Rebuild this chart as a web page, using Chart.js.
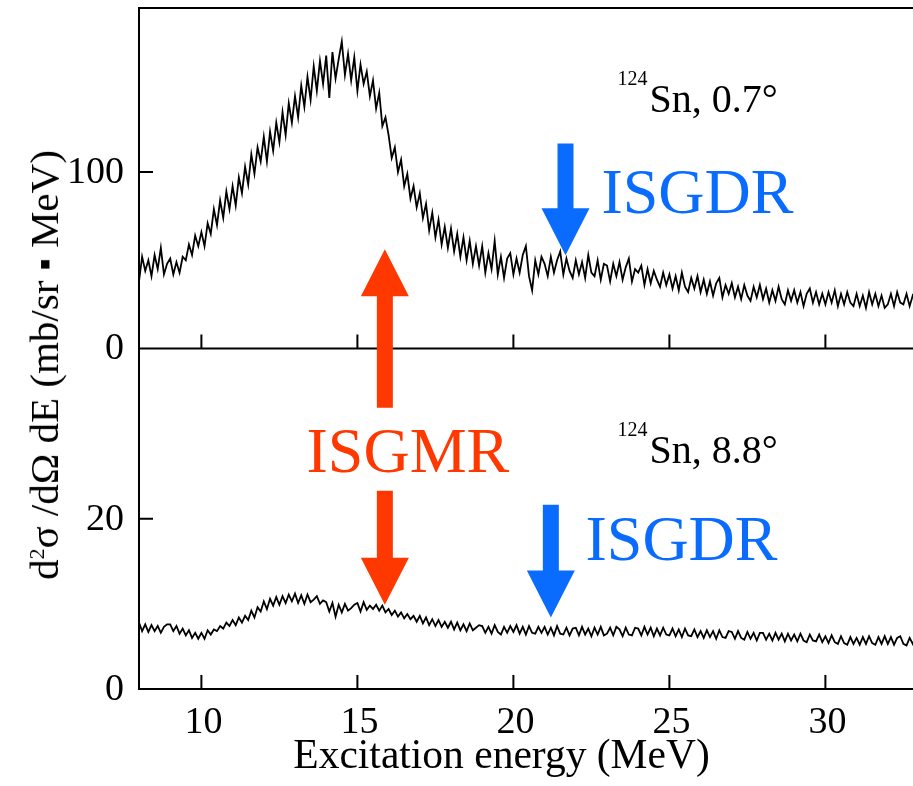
<!DOCTYPE html>
<html>
<head>
<meta charset="utf-8">
<script src="https://cdn.jsdelivr.net/npm/chart.js@4.4.1/dist/chart.umd.min.js"></script>
<style>
html,body{margin:0;padding:0;overflow:hidden;background:#fff;}
#wrap{position:relative;width:930px;height:786px;}
#c{position:absolute;left:0;top:0;}
.ytitle{position:absolute;left:43.5px;top:365px;transform:translate(-50%,-50%) rotate(-90deg);
  font-family:"Liberation Serif","Times New Roman",serif;font-size:41px;line-height:40px;white-space:nowrap;color:#000;}
.ytitle sup{font-size:22px;line-height:0;vertical-align:0.62em;}
.ytitle .dot{font-size:34px;line-height:0;vertical-align:0.05em;}
.xtitle{position:absolute;left:501.5px;top:734px;transform:translateX(-50%);
  font-family:"Liberation Serif","Times New Roman",serif;font-size:41.5px;line-height:40px;white-space:nowrap;color:#000;}
</style>
</head>
<body>
<div id="wrap">
  <canvas id="c" width="930" height="786"></canvas>
  <div class="ytitle">d<sup>2</sup>σ /dΩ dE (mb/sr <span class="dot">▪</span> MeV)</div>
  <div class="xtitle">Excitation energy (MeV)</div>
</div>
<script>
// ---- data ----
const E_START = 8.0;      // MeV, first bin
const E_STEP = 0.1;       // MeV, bin width used for the transcription

// 124Sn, 0.7 deg  (mb/sr MeV)
const spectrum07 = [
  38, 52, 44, 50, 41, 53, 45, 57, 42, 48,
  51, 42, 49, 43, 52, 50, 59, 53, 64, 58,
  66, 58, 71, 65, 79, 70, 84, 74, 89, 79,
  92, 81, 97, 88, 103, 93, 110, 99, 114, 106,
  120, 106, 123, 112, 128, 117, 134, 121, 139, 128,
  143, 131, 149, 137, 154, 141, 160, 146, 163, 150,
  166, 142, 168, 153, 164, 174, 155, 167, 152, 165,
  146, 161, 150, 157, 143, 152, 136, 145, 126, 131,
  121, 108, 114, 100, 107, 92, 99, 85, 92, 80,
  88, 74, 82, 67, 77, 63, 73, 59, 69, 57,
  68, 55, 65, 52, 63, 50, 61, 48, 58, 47,
  58, 43, 54, 45, 61, 42, 52, 40, 51, 54,
  42, 51, 43, 53, 58, 41, 33, 50, 42, 52,
  48, 41, 52, 43, 50, 55, 42, 51, 44, 40,
  50, 42, 49, 40, 53, 43, 41, 50, 39, 48,
  47, 38, 48, 41, 49, 39, 46, 51, 38, 45,
  43, 47, 36, 45, 37, 44, 39, 35, 43, 36,
  42, 34, 41, 33, 43, 35, 32, 40, 34, 41,
  32, 39, 31, 38, 30, 37, 40, 29, 36, 31,
  37, 29, 35, 28, 36, 30, 27, 35, 29, 36,
  28, 34, 26, 33, 27, 35, 28, 25, 33, 27,
  33, 26, 32, 24, 31, 34, 26, 32, 25, 31,
  25, 32, 26, 33, 24, 31, 25, 32, 26, 24,
  31, 24, 30, 23, 32, 25, 31, 24, 30, 23,
  25, 31, 24, 32, 26, 25, 31, 24, 30, 27,
  29
];

// 124Sn, 8.8 deg  (mb/sr MeV)
const spectrum88 = [
  7.8, 6.8, 7.6, 6.7, 7.5, 6.8, 7.4, 6.6, 7.3, 7.6,
  7.6, 6.8, 7.4, 6.5, 7.1, 6.3, 6.9, 6.0, 6.6, 5.9,
  6.6, 5.9, 6.9, 6.4, 7.0, 6.8, 7.4, 7.1, 7.8, 7.4,
  8.1, 7.5, 8.4, 7.8, 8.6, 8.1, 9.2, 8.4, 9.6, 9.1,
  10.3, 9.4, 10.6, 9.8, 10.8, 9.9, 10.9, 10.1, 11.1, 10.3,
  11.2, 10.1, 11.0, 10.0, 11.1, 10.2, 10.5, 10.9, 10.0, 10.4,
  10.2, 9.1, 10.1, 8.5, 9.9, 9.0, 10.0, 9.2, 9.5, 9.9,
  10.1, 9.1, 10.2, 9.3, 9.8, 9.4, 9.9, 9.2, 9.8, 9.0,
  9.4, 8.7, 9.2, 8.5, 9.0, 8.3, 8.8, 8.2, 8.6, 7.9,
  8.6, 7.7, 8.4, 7.5, 8.2, 7.4, 8.1, 7.3, 7.9, 7.2,
  7.9, 7.0, 7.8, 6.9, 7.6, 6.8, 7.7, 6.9, 7.2, 7.5,
  7.4, 6.6, 7.3, 6.5, 7.5, 6.7, 6.4, 7.3, 6.6, 7.4,
  6.7, 7.5, 6.5, 7.3, 6.4, 7.4, 6.6, 6.5, 7.3, 6.6,
  7.3, 6.4, 7.2, 6.3, 7.4, 6.5, 6.4, 7.2, 6.3, 7.1,
  7.2, 6.3, 7.3, 6.4, 7.1, 6.2, 7.2, 6.4, 7.3, 6.3,
  6.5, 7.2, 6.3, 7.3, 7.0, 6.2, 7.2, 6.4, 6.3, 7.2,
  7.1, 6.3, 7.3, 6.4, 7.2, 6.2, 7.1, 6.3, 7.2, 6.4,
  6.3, 7.1, 6.2, 7.0, 6.1, 7.1, 6.3, 6.2, 7.0, 6.1,
  6.8, 6.0, 6.9, 6.1, 6.8, 5.9, 6.9, 6.1, 6.0, 6.8,
  6.7, 5.9, 6.8, 6.0, 5.8, 6.7, 5.9, 6.6, 5.7, 6.6,
  6.6, 5.8, 6.5, 5.7, 6.6, 5.8, 6.5, 5.6, 6.5, 5.7,
  6.4, 5.6, 6.5, 5.7, 5.5, 6.4, 5.7, 5.6, 6.4, 5.5,
  6.2, 5.4, 6.3, 5.5, 5.3, 6.2, 5.4, 5.2, 6.1, 5.3,
  6.0, 5.2, 6.1, 5.3, 6.2, 5.4, 5.2, 6.1, 5.3, 6.2,
  5.3, 6.1, 5.2, 6.0, 6.2, 5.3, 5.1, 6.0, 5.3, 6.1,
  5.6
];

const xTicks = [10, 15, 20, 25, 30];
const yTopTicks = [0, 100];
const yBotTicks = [0, 20];
const xRange = [8, 33];
const yTopRange = [0, 193];
const yBotRange = [0, 40];

// annotation anchors (data coordinates)
const sampleLabels = [
  {axis: 'yTop', e: 24.36, v: 133.8, mass: '124', text: 'Sn, 0.7°'},
  {axis: 'yBot', e: 24.36, v: 26.6, mass: '124', text: 'Sn, 8.8°'}
];
const resonanceLabels = [
  {axis: 'yTop', e: 22.82, v: 76.6, text: 'ISGDR', color: '#0a6cff'},
  {axis: 'yBot', e: 22.31, v: 15.2, text: 'ISGDR', color: '#0a6cff'},
  {axis: 'yBot', e: 13.37, v: 25.5, text: 'ISGMR', color: '#ff3800'}
];
const arrows = [
  {e: 21.67, tip: ['yTop', 52.8], tail: ['yTop', 116.2], color: '#0a6cff'},
  {e: 15.88, tip: ['yTop', 56.2], tail: ['yBot', 33.05], color: '#ff3800'},
  {e: 15.88, tip: ['yBot', 9.9], tail: ['yBot', 23.3], color: '#ff3800'},
  {e: 21.2, tip: ['yBot', 8.4], tail: ['yBot', 21.65], color: '#0a6cff'}
];

const energies = spectrum07.map((_, i) => +(E_START + i * E_STEP).toFixed(2));
const pts07 = energies.map((e, i) => ({x: e, y: spectrum07[i]}));
const pts88 = energies.map((e, i) => ({x: e, y: spectrum88[i]}));

const SERIF = '"Liberation Serif","Times New Roman",serif';
Chart.defaults.font.family = SERIF;
Chart.defaults.color = '#000';

function fixSize(w, h) {
  return s => {
    if (w !== null) s.width = w;
    if (h !== null) s.height = h;
    s.paddingTop = 0; s.paddingBottom = 0; s.paddingLeft = 0; s.paddingRight = 0;
  };
}

const decor = {
  id: 'decor',
  afterDatasetsDraw(chart) {
    const {ctx, chartArea: a, scales} = chart;
    const x = scales.x, yT = scales.yTop, yB = scales.yBot;
    ctx.save();
    ctx.strokeStyle = '#000';
    ctx.lineWidth = 2;
    ctx.beginPath();
    ctx.moveTo(a.left, a.top - 1); ctx.lineTo(a.left, a.bottom + 1);
    [a.top, yT.bottom, a.bottom].forEach(y => { ctx.moveTo(a.left - 1, y); ctx.lineTo(a.right + 12, y); });
    const TL = 14;
    xTicks.forEach(v => {
      const px = x.getPixelForValue(v);
      ctx.moveTo(px, yT.bottom); ctx.lineTo(px, yT.bottom - TL);
      ctx.moveTo(px, yB.bottom); ctx.lineTo(px, yB.bottom - TL);
    });
    yTopTicks.forEach(v => { const py = yT.getPixelForValue(v); ctx.moveTo(a.left, py); ctx.lineTo(a.left + TL, py); });
    yBotTicks.forEach(v => { const py = yB.getPixelForValue(v); ctx.moveTo(a.left, py); ctx.lineTo(a.left + TL, py); });
    ctx.stroke();

    // tick labels
    ctx.fillStyle = '#000';
    ctx.font = '38px ' + SERIF;
    ctx.textAlign = 'center';
    ctx.textBaseline = 'alphabetic';
    xTicks.forEach(v => ctx.fillText(String(v), x.getPixelForValue(v) + 2, a.bottom + 44));
    ctx.textAlign = 'right';
    ctx.textBaseline = 'middle';
    yTopTicks.forEach(v => ctx.fillText(String(v), a.left - 15, yT.getPixelForValue(v) + 1));
    yBotTicks.forEach(v => ctx.fillText(String(v), a.left - 15, yB.getPixelForValue(v) + 1));

    // arrows
    const SW = 16, HW = 48, HL = 47;
    arrows.forEach(ar => {
      const px = x.getPixelForValue(ar.e);
      const ty = scales[ar.tip[0]].getPixelForValue(ar.tip[1]);
      const sy = scales[ar.tail[0]].getPixelForValue(ar.tail[1]);
      const dir = sy > ty ? 1 : -1;
      const hb = ty + dir * HL;
      ctx.fillStyle = ar.color;
      ctx.beginPath();
      ctx.moveTo(px, ty);
      ctx.lineTo(px + HW / 2, hb);
      ctx.lineTo(px + SW / 2, hb);
      ctx.lineTo(px + SW / 2, sy);
      ctx.lineTo(px - SW / 2, sy);
      ctx.lineTo(px - SW / 2, hb);
      ctx.lineTo(px - HW / 2, hb);
      ctx.closePath();
      ctx.fill();
    });

    // labels
    ctx.textAlign = 'left';
    ctx.textBaseline = 'alphabetic';
    resonanceLabels.forEach(l => {
      ctx.fillStyle = l.color;
      ctx.font = '64px ' + SERIF;
      ctx.fillText(l.text, x.getPixelForValue(l.e), scales[l.axis].getPixelForValue(l.v));
    });
    sampleLabels.forEach(l => {
      const px = x.getPixelForValue(l.e), py = scales[l.axis].getPixelForValue(l.v);
      ctx.fillStyle = '#000';
      ctx.font = '40px ' + SERIF;
      ctx.textAlign = 'left';
      ctx.fillText(l.text, px, py);
      ctx.font = '20px ' + SERIF;
      ctx.textAlign = 'right';
      ctx.fillText(l.mass, px - 2, py - 27);
    });
    ctx.restore();
  }
};

const axisCommon = {grid: {display: false}, border: {display: false}, ticks: {display: false}};

new Chart(document.getElementById('c'), {
  type: 'line',
  data: {
    datasets: [
      {data: pts07, yAxisID: 'yTop', borderColor: '#000', borderWidth: 1.8, pointRadius: 0, tension: 0, fill: false},
      {data: pts88, yAxisID: 'yBot', borderColor: '#000', borderWidth: 1.8, pointRadius: 0, tension: 0, fill: false}
    ]
  },
  options: {
    responsive: false,
    animation: false,
    devicePixelRatio: 1,
    layout: {padding: {top: 8, right: 11, left: 0, bottom: 0}},
    plugins: {legend: {display: false}, tooltip: {enabled: false}},
    scales: {
      x: Object.assign({type: 'linear', position: 'bottom', min: xRange[0], max: xRange[1],
        afterFit: fixSize(null, 97)}, axisCommon),
      yBot: Object.assign({type: 'linear', position: 'left', stack: 'panels', stackWeight: 1,
        min: yBotRange[0], max: yBotRange[1], afterFit: fixSize(139, null)}, axisCommon),
      yTop: Object.assign({type: 'linear', position: 'left', stack: 'panels', stackWeight: 1,
        min: yTopRange[0], max: yTopRange[1], afterFit: fixSize(139, null)}, axisCommon)
    }
  },
  plugins: [decor]
});
</script>
</body>
</html>
